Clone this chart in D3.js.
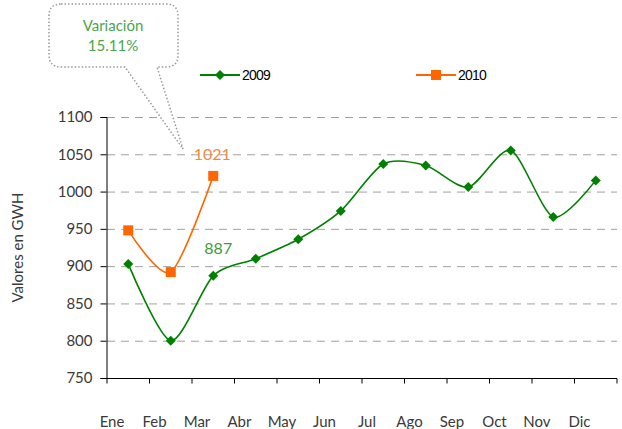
<!DOCTYPE html>
<html>
<head>
<meta charset="utf-8">
<script src="https://cdn.jsdelivr.net/npm/d3@7"></script>
<style>
  body { margin: 0; background: #fff; }
  text { font-family: Lato, "Open Sans", sans-serif; }
</style>
</head>
<body>
<div id="chart"></div>
<script>
var months = ["Ene", "Feb", "Mar", "Abr", "May", "Jun", "Jul", "Ago", "Sep", "Oct", "Nov", "Dic"];
var values2009 = [903, 800, 887, 910, 936, 974, 1037, 1035, 1006, 1055, 966, 1015];
var values2010 = [948, 892, 1021];
var yTicks = [750, 800, 850, 900, 950, 1000, 1050, 1100];
var seriesNames = ["2009", "2010"];
var calloutLines = ["Variación", "15.11%"];

var width = 622, height = 429;
var margin = {top: 117, right: 5, bottom: 51, left: 107};

var svg = d3.select("#chart").append("svg")
  .attr("width", width)
  .attr("height", height);

var x = d3.scaleBand()
  .domain(months)
  .range([margin.left, width - margin.right]);

var y = d3.scaleLinear()
  .domain([750, 1100])
  .range([height - margin.bottom, margin.top]);

// gridlines
svg.append("g")
  .selectAll("line")
  .data(yTicks.slice(1))
  .enter()
  .append("line")
  .attr("x1", margin.left)
  .attr("x2", width - margin.right)
  .attr("y1", d => y(d) + 0.5)
  .attr("y2", d => y(d) + 0.5)
  .attr("stroke", "#a0a0a0")
  .attr("stroke-dasharray", "8,6");

// y axis
var yAxis = svg.append("g")
  .attr("transform", "translate(" + (margin.left - 0.5) + ",0)")
  .call(d3.axisLeft(y).tickValues(yTicks).tickFormat(d3.format("d")).tickSize(6).tickPadding(8));
yAxis.select(".domain").attr("stroke", "#000");
yAxis.selectAll(".tick line").attr("stroke", "#000");
yAxis.selectAll("text")
  .attr("fill", "#3a3a3a")
  .style("font-size", "15px")
  .style("font-family", "Lato, sans-serif");

// x axis
var xAxis = svg.append("g")
  .attr("transform", "translate(0," + (height - margin.bottom + 0.5) + ")");
xAxis.append("line")
  .attr("x1", margin.left - 1)
  .attr("x2", width - margin.right)
  .attr("stroke", "#000");
xAxis.selectAll(".xtick")
  .data(months.concat(["end"]))
  .enter()
  .append("line")
  .attr("x1", (d, i) => i < months.length ? x(d) : width - margin.right)
  .attr("x2", (d, i) => i < months.length ? x(d) : width - margin.right)
  .attr("y1", 0)
  .attr("y2", 5)
  .attr("stroke", "#000");
xAxis.selectAll(".xlabel")
  .data(months)
  .enter()
  .append("text")
  .attr("x", d => x(d) + 5)
  .attr("y", 48)
  .attr("text-anchor", "middle")
  .attr("fill", "#3a3a3a")
  .style("font-size", "15px")
  .text(d => d);

// y title
svg.append("text")
  .attr("transform", "translate(23," + ((margin.top + height - margin.bottom) / 2) + ") rotate(-90)")
  .attr("text-anchor", "middle")
  .attr("fill", "#3a3a3a")
  .style("font-size", "15px")
  .text("Valores en GWH");

var line = d3.line()
  .x((d, i) => x(months[i]) + x.bandwidth() / 2)
  .y(d => y(d))
  .curve(d3.curveCardinal.tension(0.2));

svg.append("path")
  .datum(values2009)
  .attr("d", line)
  .attr("fill", "none")
  .attr("stroke", "#008000")
  .attr("stroke-width", 1.6);

svg.append("path")
  .datum(values2010)
  .attr("d", line)
  .attr("fill", "none")
  .attr("stroke", "#ff6600")
  .attr("stroke-width", 1.6);

var diamond = d3.symbol().type(d3.symbolSquare).size(50);

svg.append("g")
  .selectAll("path")
  .data(values2009)
  .enter()
  .append("path")
  .attr("d", diamond)
  .attr("transform", (d, i) => "translate(" + (x(months[i]) + x.bandwidth() / 2) + "," + y(d) + ") rotate(45)")
  .attr("fill", "#008000");

svg.append("g")
  .selectAll("rect")
  .data(values2010)
  .enter()
  .append("rect")
  .attr("x", (d, i) => x(months[i]) + x.bandwidth() / 2 - 5)
  .attr("y", d => y(d) - 5)
  .attr("width", 10)
  .attr("height", 10)
  .attr("fill", "#ff6600");

// value labels
svg.append("text")
  .attr("x", x("Mar") + x.bandwidth() / 2 + 5)
  .attr("y", y(values2009[2]) - 22)
  .attr("text-anchor", "middle")
  .attr("fill", "#3c9c3c")
  .style("font-size", "16px")
  .text(values2009[2]);

svg.append("text")
  .attr("x", x("Mar") + x.bandwidth() / 2 - 1)
  .attr("y", y(values2010[2]) - 16)
  .attr("text-anchor", "middle")
  .attr("fill", "#f7883a")
  .style("font-size", "16px")
  .text(values2010[2]);

// legend
var legend = svg.append("g");
var legendX = [200, 416];
var legendColors = ["#008000", "#ff6600"];
seriesNames.forEach(function(name, i) {
  var g = legend.append("g").attr("transform", "translate(" + legendX[i] + ",75)");
  g.append("line").attr("x1", 0).attr("x2", 40).attr("stroke", legendColors[i]).attr("stroke-width", 2);
  if (i == 0) {
    g.append("path").attr("d", diamond).attr("transform", "translate(20,0) rotate(45)").attr("fill", legendColors[i]);
  } else {
    g.append("rect").attr("x", 15).attr("y", -5).attr("width", 10).attr("height", 10).attr("fill", legendColors[i]);
  }
  g.append("text")
    .attr("x", 42)
    .attr("y", 5)
    .style("font-family", "'Liberation Sans', Arial, sans-serif")
    .style("font-size", "14px")
    .style("letter-spacing", "-0.8px")
    .attr("fill", "#000")
    .text(name);
});

// callout
var callout = svg.append("g");
var bx0 = 49, bx1 = 178, by0 = 4, by1 = 67, r = 12;
var tipX = 183, tipY = 149;
var p = d3.path();
p.moveTo(bx0 + r, by0);
p.lineTo(bx1 - r, by0);
p.quadraticCurveTo(bx1, by0, bx1, by0 + r);
p.lineTo(bx1, by1 - r);
p.quadraticCurveTo(bx1, by1, bx1 - r, by1);
p.lineTo(157, by1);
p.lineTo(tipX, tipY);
p.lineTo(125, by1);
p.lineTo(bx0 + r, by1);
p.quadraticCurveTo(bx0, by1, bx0, by1 - r);
p.lineTo(bx0, by0 + r);
p.quadraticCurveTo(bx0, by0, bx0 + r, by0);
p.closePath();
callout.append("path")
  .attr("d", p.toString())
  .attr("fill", "#fff")
  .attr("stroke", "#999")
  .attr("stroke-width", 1.5)
  .attr("stroke-dasharray", "1.5,2");
callout.selectAll("text")
  .data(calloutLines)
  .enter()
  .append("text")
  .attr("x", 113)
  .attr("y", (d, i) => 31 + i * 20)
  .attr("text-anchor", "middle")
  .attr("fill", "#4ca64c")
  .style("font-size", "15px")
  .text(d => d);
</script>
</body>
</html>
